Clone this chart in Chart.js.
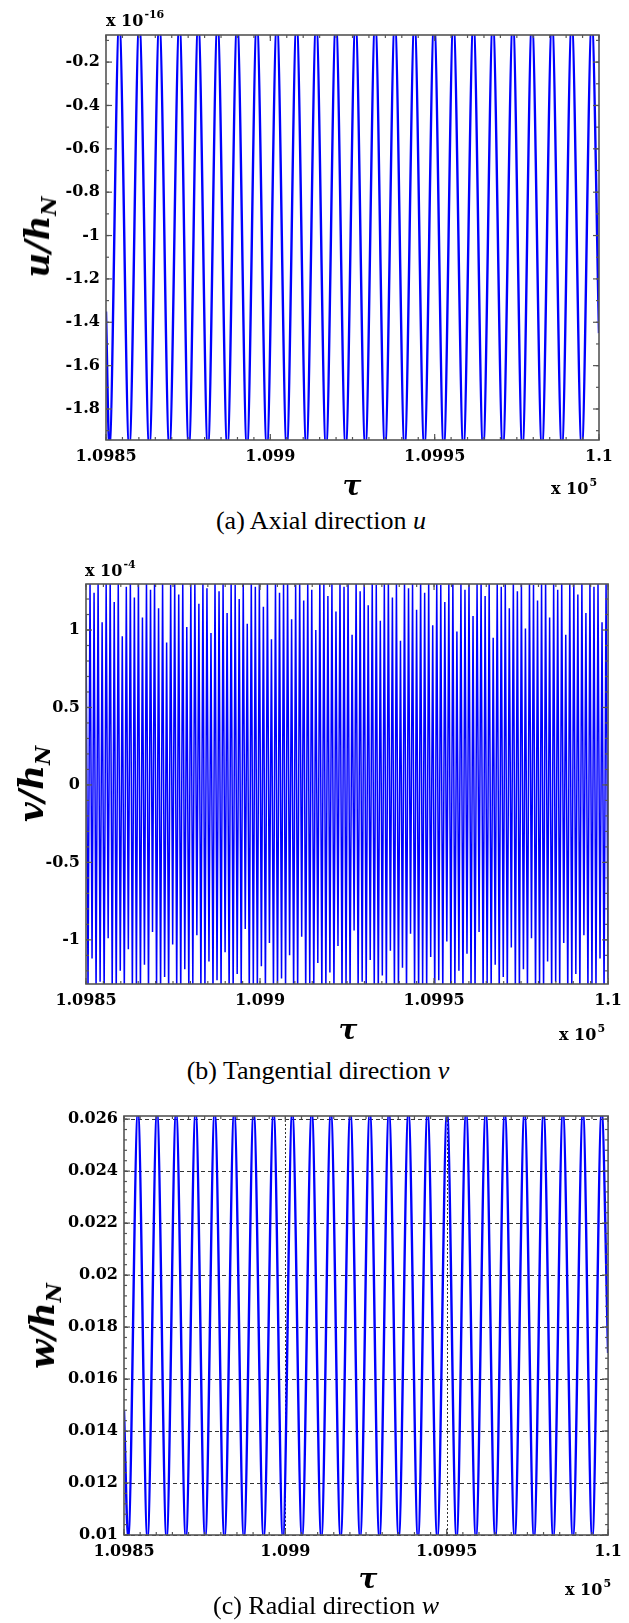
<!DOCTYPE html>
<html><head><meta charset="utf-8">
<script src="https://cdn.jsdelivr.net/npm/chart.js@4.4.1/dist/chart.umd.min.js"></script>
<style>
html,body{margin:0;padding:0;background:#fff;}
body{width:629px;height:1623px;position:relative;overflow:hidden;}
canvas{position:absolute;left:0;}
.t{position:absolute;white-space:nowrap;color:#000;line-height:1;}
.cap{font-family:"Liberation Serif","Times New Roman",serif;font-size:26px;transform:translate(-50%,-50%);}
.tau{font-family:"DejaVu Serif",serif;font-weight:bold;font-style:italic;font-size:28px;transform:translate(-50%,-50%);}
.exp{font-family:"DejaVu Serif",serif;font-weight:bold;font-size:16px;}
.exp sup{font-size:11px;position:relative;top:-8px;vertical-align:baseline;margin-left:1px;}
.yt{font-family:"DejaVu Serif",serif;font-weight:bold;font-style:italic;font-size:34px;transform:translate(-50%,-50%) rotate(-90deg);}
.yt sub{font-size:21px;position:relative;top:7px;vertical-align:baseline;}
</style></head><body>
<canvas id="cA" width="629" height="476" style="top:0px"></canvas>
<canvas id="cB" width="629" height="476" style="top:545px"></canvas>
<canvas id="cC" width="629" height="487" style="top:1085px"></canvas>

<div class="t exp" style="left:106px;top:13px">x 10<sup>-16</sup></div>
<div class="t yt" style="left:37px;top:237px">u/h<sub>N</sub></div>
<div class="t tau" style="left:352px;top:486px">τ</div>
<div class="t exp" style="left:551px;top:481px">x 10<sup>5</sup></div>
<div class="t cap" style="left:321px;top:521px">(a) Axial direction <i>u</i></div>

<div class="t exp" style="left:85px;top:563px">x 10<sup>-4</sup></div>
<div class="t yt" style="left:31px;top:784px">v/h<sub>N</sub></div>
<div class="t tau" style="left:348px;top:1030px">τ</div>
<div class="t exp" style="left:559px;top:1027px">x 10<sup>5</sup></div>
<div class="t cap" style="left:318px;top:1071px">(b) Tangential direction <i>v</i></div>

<div class="t yt" style="left:42px;top:1326px">w/h<sub>N</sub></div>
<div class="t tau" style="left:368px;top:1579px">τ</div>
<div class="t exp" style="left:565px;top:1582px">x 10<sup>5</sup></div>
<div class="t cap" style="left:326px;top:1606px">(c) Radial direction <i>w</i></div>

<script>
// ---------- shared x axis ----------
const xTickValues = [109850, 109900, 109950, 110000];
const xTickLabels = ['1.0985', '1.099', '1.0995', '1.1'];

// ---------- (a) axial u (units of 1e-16): turning points ----------
const uTickValues = [-1.8, -1.6, -1.4, -1.2, -1, -0.8, -0.6, -0.4, -0.2];
const uTickLabels = ['-1.8', '-1.6', '-1.4', '-1.2', '-1', '-0.8', '-0.6', '-0.4', '-0.2'];
const uTimes = [109850,
  109851.03, 109854.03, 109857.08, 109860.13, 109863.18, 109866.23, 109869.29, 109872.34,
  109875.20, 109878.07, 109881.00, 109883.93, 109886.92, 109889.91, 109892.90, 109895.89,
  109898.95, 109902.00, 109904.99, 109907.98, 109910.97, 109913.96, 109916.95, 109919.94,
  109922.93, 109925.92, 109928.91, 109931.90, 109934.89, 109937.88, 109940.87, 109943.86,
  109946.85, 109949.84, 109952.77, 109955.70, 109958.75, 109961.80, 109964.75, 109967.70,
  109970.75, 109973.80, 109976.70, 109979.60, 109982.65, 109985.70, 109988.70, 109991.70,
  109994.75, 109997.80, 110000];
const uValues = [-1.35,
  -1.98, -0.02, -1.98, -0.02, -1.98, -0.02, -1.98, -0.02,
  -1.98, -0.02, -1.98, -0.02, -1.98, -0.02, -1.98, -0.02,
  -1.98, -0.02, -1.98, -0.02, -1.98, -0.02, -1.98, -0.02,
  -1.98, -0.02, -1.98, -0.02, -1.98, -0.02, -1.98, -0.02,
  -1.98, -0.02, -1.98, -0.02, -1.98, -0.02, -1.98, -0.02,
  -1.98, -0.02, -1.98, -0.02, -1.98, -0.02, -1.98, -0.02,
  -1.98, -0.02, -1.45];

// ---------- (b) tangential v (units of 1e-4): successive peaks / troughs ----------
const vTickValues = [-1, -0.5, 0, 0.5, 1];
const vTickLabels = ['-1', '-0.5', '0', '0.5', '1'];
const vStart = 109850, vEnd = 110000;
const vPeaks = [
  1.10, 1.31, 1.24, 1.32, 1.05, 1.30, 1.33, 1.18, 1.31, 0.96,
  1.28, 1.32, 1.21, 1.31, 1.08, 1.33, 1.26, 1.30, 1.14, 1.32,
  0.92, 1.29, 1.31, 1.23, 1.33, 1.02, 1.30, 1.32, 1.17, 1.31,
  1.27, 0.98, 1.33, 1.25, 1.30, 1.11, 1.32, 1.29, 1.20, 1.31,
  1.04, 1.33, 1.28, 1.30, 1.15, 1.31, 0.94, 1.32, 1.24, 1.30,
  1.33, 1.07, 1.29, 1.31, 1.19, 1.32, 1.26, 1.00, 1.33, 1.30,
  1.22, 1.31, 1.12, 1.32, 1.28, 1.30, 0.97, 1.33, 1.25, 1.31,
  1.16, 1.32, 1.29, 1.06, 1.30, 1.33, 1.21, 1.31, 0.93, 1.32,
  1.27, 1.30, 1.13, 1.33, 1.24, 1.31, 1.03, 1.32, 1.29, 1.18,
  1.30, 1.33, 0.99, 1.31, 1.26, 1.32, 1.09, 1.30, 1.33, 1.22,
  1.31, 0.95, 1.32, 1.28, 1.30, 1.14, 1.33, 1.25, 1.31, 1.01,
  1.32, 1.29, 1.19, 1.30, 1.33, 1.08, 1.31, 1.26, 1.32, 0.97,
  1.30, 1.33, 1.23, 1.31, 1.11, 1.32, 1.28, 1.30, 1.05, 1.33];
const vTroughs = [
  -1.34, -1.12, -1.36, -1.27, -1.35, -0.99, -1.33, -1.37, -1.20, -1.35,
  -1.06, -1.36, -1.30, -1.34, -1.16, -1.37, -0.95, -1.33, -1.35, -1.24,
  -1.36, -1.03, -1.34, -1.37, -1.19, -1.35, -1.29, -0.97, -1.36, -1.33,
  -1.14, -1.37, -1.26, -1.34, -1.08, -1.36, -1.35, -1.22, -1.33, -0.93,
  -1.37, -1.31, -1.35, -1.17, -1.36, -1.02, -1.34, -1.37, -1.25, -1.33,
  -1.10, -1.36, -1.35, -0.98, -1.37, -1.28, -1.34, -1.15, -1.36, -1.33,
  -1.21, -1.35, -1.04, -1.37, -1.30, -1.34, -0.94, -1.36, -1.27, -1.35,
  -1.13, -1.33, -1.37, -1.23, -1.36, -1.07, -1.34, -1.35, -1.18, -1.37,
  -0.96, -1.33, -1.36, -1.29, -1.34, -1.11, -1.37, -1.26, -1.35, -1.01,
  -1.36, -1.33, -1.20, -1.37, -1.09, -1.34, -1.35, -0.95, -1.36, -1.28,
  -1.33, -1.16, -1.37, -1.24, -1.35, -1.05, -1.34, -1.36, -1.19, -1.33,
  -0.99, -1.37, -1.31, -1.35, -1.14, -1.36, -1.27, -1.34, -1.02, -1.37,
  -1.33, -1.22, -1.36, -0.97, -1.35, -1.30, -1.34, -1.12, -1.37, -1.25];

// ---------- (c) radial w: turning points ----------
const wTickValues = [0.01, 0.012, 0.014, 0.016, 0.018, 0.02, 0.022, 0.024, 0.026];
const wTickLabels = ['0.01', '0.012', '0.014', '0.016', '0.018', '0.02', '0.022', '0.024', '0.026'];
const wTimes = [109850,
  109851.30, 109854.31, 109857.27, 109860.23, 109863.19, 109866.14, 109869.17, 109872.19,
  109875.15, 109878.10, 109881.12, 109884.14, 109887.16, 109890.18, 109893.27, 109896.35,
  109899.25, 109902.14, 109905.16, 109908.18, 109911.14, 109914.10, 109917.12, 109920.14,
  109923.16, 109926.18, 109929.14, 109932.10, 109935.12, 109938.14, 109941.10, 109944.06,
  109947.08, 109950.10, 109953.05, 109956.00, 109959.05, 109962.10, 109965.05, 109968.00,
  109971.05, 109974.10, 109977.05, 109980.00, 109983.00, 109986.00, 109989.10, 109992.20,
  109995.10, 109998.00, 110000];
const wValues = [0.0148,
  0.00985, 0.0263, 0.00985, 0.0263, 0.00985, 0.0263, 0.00985, 0.0263,
  0.00985, 0.0263, 0.00985, 0.0263, 0.00985, 0.0263, 0.00985, 0.0263,
  0.00985, 0.0263, 0.00985, 0.0263, 0.00985, 0.0263, 0.00985, 0.0263,
  0.00985, 0.0263, 0.00985, 0.0263, 0.00985, 0.0263, 0.00985, 0.0263,
  0.00985, 0.0263, 0.00985, 0.0263, 0.00985, 0.0263, 0.00985, 0.0263,
  0.00985, 0.0263, 0.00985, 0.0263, 0.00985, 0.0263, 0.00985, 0.0263,
  0.00985, 0.0263, 0.0170];

// ---------- helpers ----------
const tickFont = {family: 'DejaVu Serif', size: 16, weight: 'bold'};

const framePlugin = {
  id: 'frame',
  beforeDatasetsDraw(chart, args, o) {
    if (!o.grid) return;
    const {ctx, chartArea: a, scales: {x, y}} = chart;
    ctx.save();
    ctx.lineWidth = 1;
    ctx.strokeStyle = '#333';
    ctx.setLineDash([4, 3]);
    o.gridY.forEach(v => {
      const py = Math.round(y.getPixelForValue(v)) + 0.5;
      ctx.beginPath(); ctx.moveTo(a.left, py); ctx.lineTo(a.right, py); ctx.stroke();
    });
    ctx.setLineDash([2, 2]);
    o.gridX.forEach(v => {
      const px = Math.round(x.getPixelForValue(v)) + 0.5;
      ctx.beginPath(); ctx.moveTo(px, a.top); ctx.lineTo(px, a.bottom); ctx.stroke();
    });
    ctx.restore();
  },
  afterDatasetsDraw(chart, args, o) {
    const {ctx, chartArea: a, scales: {x, y}} = chart;
    ctx.save();
    ctx.strokeStyle = '#555';
    ctx.lineWidth = 1.2;
    const seg = (x1, y1, x2, y2) => { ctx.beginPath(); ctx.moveTo(x1, y1); ctx.lineTo(x2, y2); ctx.stroke(); };
    const marks = (scale, step, len, isX) => {
      const n0 = Math.ceil(scale.min / step - 1e-6), n1 = Math.floor(scale.max / step + 1e-6);
      for (let n = n0; n <= n1; n++) {
        const p = scale.getPixelForValue(n * step);
        if (isX) { seg(p, a.bottom, p, a.bottom - len); seg(p, a.top, p, a.top + len); }
        else { seg(a.left, p, a.left + len, p); seg(a.right, p, a.right - len, p); }
      }
    };
    marks(x, o.xMinor, 3, true);
    marks(x, o.xMajor, 6, true);
    marks(y, o.yMinor, 3, false);
    marks(y, o.yMajor, 6, false);
    ctx.lineWidth = 1.6;
    ctx.strokeRect(a.left, a.top, a.right - a.left, a.bottom - a.top);
    ctx.restore();
  }
};
Chart.register(framePlugin);

function panel(id, o) {
  const pts = o.times.map((t, i) => ({x: t, y: o.values[i]}));
  return new Chart(document.getElementById(id), {
    type: 'line',
    data: {datasets: [{
      data: pts, borderColor: '#0000ff', borderWidth: o.lw, pointRadius: 0,
      fill: false, tension: 0, cubicInterpolationMode: o.mono ? 'monotone' : 'default', clip: 0
    }]},
    options: {
      responsive: false, animation: false, events: [],
      layout: {padding: {top: o.top, right: o.right, left: 0, bottom: 0}},
      plugins: {
        legend: {display: false}, tooltip: {enabled: false},
        frame: {grid: o.grid, gridY: o.yTicks, gridX: [109900, 109950],
                xMinor: 5, xMajor: 50, yMinor: o.yMinor, yMajor: o.yMajor}
      },
      scales: {
        x: {
          type: 'linear', min: 109850, max: 110000,
          afterBuildTicks: s => { s.ticks = xTickValues.map(v => ({value: v})); },
          afterFit: s => { s.height = o.xh; },
          ticks: {callback: (v, i) => xTickLabels[i], font: tickFont, color: '#000', padding: 7,
                  maxRotation: 0, autoSkip: false},
          grid: {display: false, drawTicks: false}, border: {display: false}
        },
        y: {
          type: 'linear', min: o.ymin, max: o.ymax,
          afterBuildTicks: s => { s.ticks = o.yTicks.map(v => ({value: v})); },
          afterFit: s => { s.width = o.left; },
          ticks: {callback: (v, i) => o.yLabels[i], font: tickFont, color: '#000', padding: 6, autoSkip: false},
          grid: {display: false, drawTicks: false}, border: {display: false}
        }
      }
    }
  });
}

panel('cA', {times: uTimes, values: uValues, lw: 2.4, mono: true, top: 35, right: 30, left: 106, xh: 36,
  ymin: -1.943, ymax: -0.075, yTicks: uTickValues, yLabels: uTickLabels, yMinor: 0.1, yMajor: 0.2, grid: false});

const vValues = [];
vPeaks.forEach((p, i) => { vValues.push(p); vValues.push(vTroughs[i]); });
const vTimes = vValues.map((_, i) => vStart + i * (vEnd - vStart) / (vValues.length - 1));
panel('cB', {times: vTimes, values: vValues, lw: 1.5, mono: false, top: 39, right: 20, left: 86, xh: 37,
  ymin: -1.285, ymax: 1.297, yTicks: vTickValues, yLabels: vTickLabels, yMinor: 0.1, yMajor: 0.5, grid: false});

panel('cC', {times: wTimes, values: wValues, lw: 2.4, mono: true, top: 31, right: 17, left: 124, xh: 37,
  ymin: 0.01, ymax: 0.02612, yTicks: wTickValues, yLabels: wTickLabels, yMinor: 0.0004, yMajor: 0.002, grid: true});
</script>
</body></html>
